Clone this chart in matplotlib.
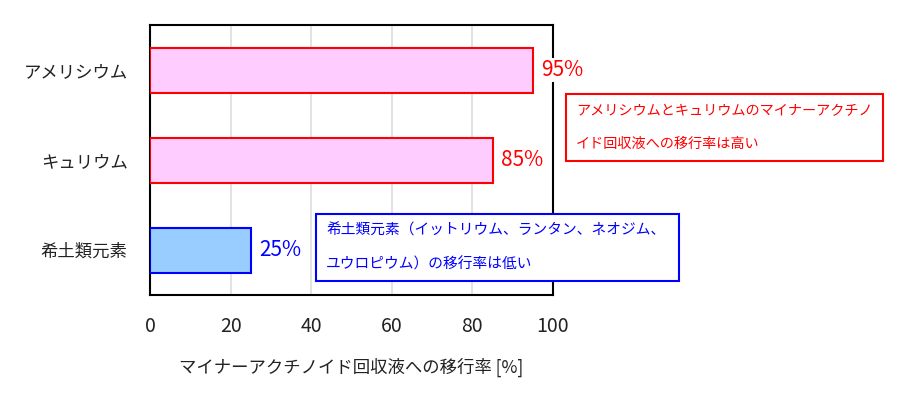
import matplotlib
matplotlib.use('Agg')
import matplotlib.pyplot as plt
from matplotlib.patches import Rectangle

plt.rcParams['font.family'] = ['Noto Sans CJK JP', 'DejaVu Sans']

# data
elements = ['アメリシウム', 'キュリウム', '希土類元素']
transfer_rate = [95, 85, 25]
bar_fill = ['#FFCCFF', '#FFCCFF', '#99CCFF']
bar_edge = ['#FF0000', '#FF0000', '#0000FF']
value_labels = ['95%', '85%', '25%']
x_ticks = [0, 20, 40, 60, 80, 100]
x_label = 'マイナーアクチノイド回収液への移行率 [%]'
note_red = ['アメリシウムとキュリウムのマイナーアクチノ', 'イド回収液への移行率は高い']
note_blue = ['希土類元素（イットリウム、ランタン、ネオジム、', 'ユウロピウム）の移行率は低い']

W, H = 900, 396
fig = plt.figure(figsize=(9, 3.96), dpi=100)
ax = fig.add_axes([150 / W, 1 - 295 / H, 403 / W, 270 / H])

ypos = list(range(len(elements)))
ax.barh(ypos, transfer_rate, height=0.5, color=bar_fill, edgecolor=bar_edge,
        linewidth=1.5, zorder=3)
ax.set_ylim(len(elements) - 0.5, -0.5)
ax.set_xlim(0, 100)
ax.set_yticks(ypos)
ax.set_yticklabels(elements, fontsize=12.5, color='#222222')
ax.set_xticks(x_ticks)
ax.set_xticklabels([str(t) for t in x_ticks], fontsize=14, color='#222222')
ax.tick_params(axis='both', length=0)
ax.tick_params(axis='y', pad=16)
ax.tick_params(axis='x', pad=15)
ax.set_xlabel(x_label, fontsize=12.5, color='#222222', labelpad=15)
ax.grid(axis='x', color='#DDDDDD', linewidth=1.2, zorder=0)
ax.set_axisbelow(True)
for s in ax.spines.values():
    s.set_color('black')
    s.set_linewidth(1.5)

for y, v, lab, c in zip(ypos, transfer_rate, value_labels, bar_edge):
    ax.annotate(lab, (v, y), xytext=(6, 0), textcoords='offset points',
                ha='left', va='center', fontsize=15, color=c, zorder=6,
                bbox=dict(facecolor='white', edgecolor='none', pad=1))


def note_box(x0, y0, x1, y1, lines, color, fs):
    # box given in image pixels (top-left origin)
    fig.patches.append(Rectangle((x0 / W, 1 - y1 / H), (x1 - x0) / W, (y1 - y0) / H,
                                 transform=fig.transFigure, facecolor='white',
                                 edgecolor=color, linewidth=1.5, zorder=5))
    h = (y1 - y0) / len(lines)
    for i, line in enumerate(lines):
        fig.text((x0 + 10) / W, 1 - (y0 + h * (i + 0.5)) / H, line, color=color,
                 fontsize=fs, ha='left', va='center', zorder=6)


note_box(566, 94, 883, 161, note_red, '#FF0000', 10.2)
note_box(316, 214, 679, 281, note_blue, '#0000FF', 10.6)

fig.savefig('out.png', dpi=100)
